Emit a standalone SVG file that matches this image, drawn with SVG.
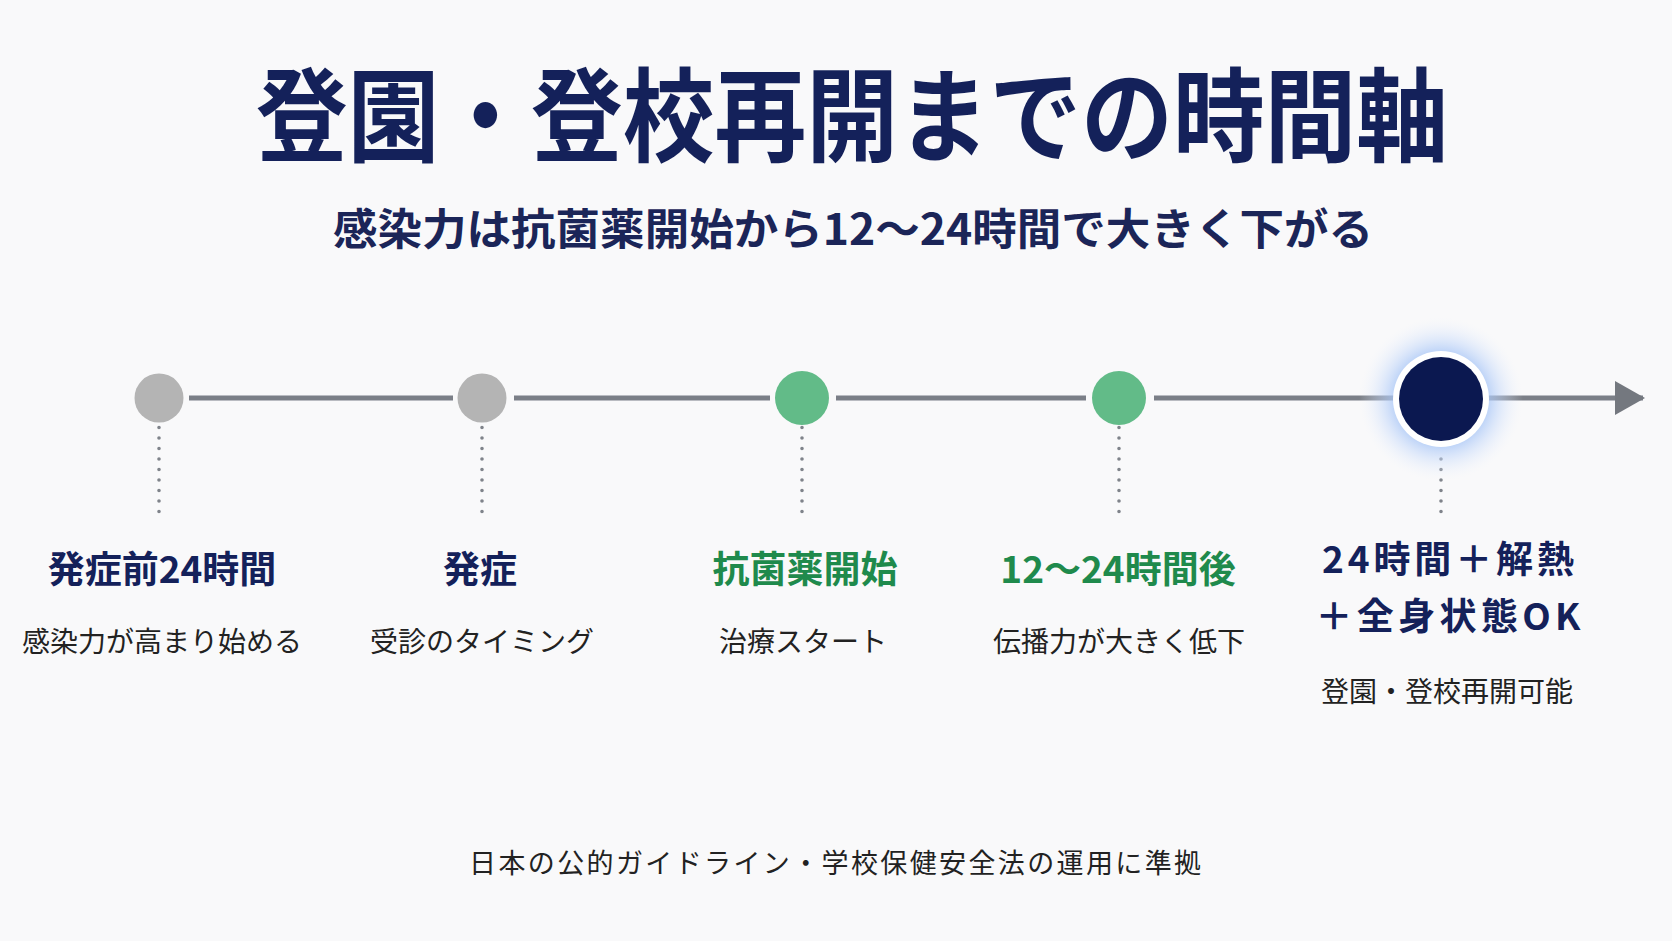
<svg xmlns="http://www.w3.org/2000/svg" width="1672" height="941" viewBox="0 0 1672 941">
<defs>
<style>
.jp{font-family:"Noto Sans CJK JP","Noto Sans",sans-serif;}
.title{font-size:102px;font-weight:700;fill:#14215a;}
.sub{font-size:43px;font-weight:600;fill:#1b2558;}
.lbl{font-size:37px;font-weight:700;}
.navy{fill:#14215a;}
.green{fill:#1f8a4c;}
.desc{font-size:28px;font-weight:400;fill:#222;}
.foot{font-size:27px;font-weight:400;fill:#222;}
.seg{stroke:#7b7f87;stroke-width:5;stroke-linecap:butt;}
.dot{stroke:#7f838a;stroke-width:3.6;stroke-dasharray:0 10.5;stroke-linecap:round;fill:none;}
.gray{fill:#b4b4b4;}
.grn{fill:#62bb88;}
</style>
<radialGradient id="glow" cx="0.5" cy="0.5" r="0.5">
<stop offset="0.5" stop-color="#9fc0f5" stop-opacity="0.9"/>
<stop offset="0.72" stop-color="#c2d7fa" stop-opacity="0.5"/>
<stop offset="1" stop-color="#eef3fd" stop-opacity="0"/>
</radialGradient>
<marker id="arr" viewBox="0 0 30 34" refX="28" refY="17" markerWidth="30" markerHeight="34" markerUnits="userSpaceOnUse" orient="auto">
<path d="M0,0 L30,17 L0,34 Z" fill="#74787f"/>
</marker>
</defs>
<rect width="1672" height="941" fill="#f9f9fa"/>

<g id="title">
<text class="jp title" x="852" y="154" text-anchor="middle" textLength="1192" lengthAdjust="spacingAndGlyphs">登園・登校再開までの時間軸</text>
<text class="jp sub" x="853" y="245" text-anchor="middle" textLength="1040" lengthAdjust="spacingAndGlyphs">感染力は抗菌薬開始から12～24時間で大きく下がる</text>
</g>

<g id="connectors">
<line class="seg" x1="189" y1="398" x2="453" y2="398"/>
<line class="seg" x1="514" y1="398" x2="770" y2="398"/>
<line class="seg" x1="836" y1="398" x2="1086" y2="398"/>
<line class="seg" x1="1154" y1="398" x2="1395" y2="398"/>
<line class="seg" x1="1488" y1="398" x2="1643" y2="398" marker-end="url(#arr)"/>
<line class="dot" x1="159" y1="417" x2="159" y2="522"/>
<line class="dot" x1="482" y1="417" x2="482" y2="522"/>
<line class="dot" x1="802" y1="417" x2="802" y2="522"/>
<line class="dot" x1="1119" y1="417" x2="1119" y2="522"/>
<line class="dot" x1="1441" y1="459" x2="1441" y2="522"/>
</g>

<g id="node1">
<circle class="gray" cx="159" cy="398" r="24.5"/>
<text class="jp lbl navy" x="162" y="583" text-anchor="middle">発症前24時間</text>
<text class="jp desc" x="162" y="652" text-anchor="middle">感染力が高まり始める</text>
</g>

<g id="node2">
<circle class="gray" cx="482" cy="398" r="24.5"/>
<text class="jp lbl navy" x="480" y="583" text-anchor="middle">発症</text>
<text class="jp desc" x="482" y="652" text-anchor="middle">受診のタイミング</text>
</g>

<g id="node3">
<circle class="grn" cx="802" cy="398" r="27"/>
<text class="jp lbl green" x="805" y="583" text-anchor="middle">抗菌薬開始</text>
<text class="jp desc" x="803" y="652" text-anchor="middle">治療スタート</text>
</g>

<g id="node4">
<circle class="grn" cx="1119" cy="398" r="27"/>
<text class="jp lbl green" x="1118" y="583" text-anchor="middle">12～24時間後</text>
<text class="jp desc" x="1119" y="652" text-anchor="middle">伝播力が大きく低下</text>
</g>

<g id="node5">
<circle cx="1441" cy="399" r="82" fill="url(#glow)"/>
<circle cx="1441" cy="399" r="48" fill="#ffffff"/>
<circle cx="1441" cy="399" r="42" fill="#0b1850"/>
<text class="jp lbl navy" x="1448" y="573" text-anchor="middle" textLength="252" lengthAdjust="spacing">24時間＋解熱</text>
<text class="jp lbl navy" x="1448" y="630" text-anchor="middle" textLength="265" lengthAdjust="spacing">＋全身状態OK</text>
<text class="jp desc" x="1447" y="702" text-anchor="middle">登園・登校再開可能</text>
</g>

<g id="footer">
<text class="jp foot" x="835" y="873" text-anchor="middle" textLength="732" lengthAdjust="spacing">日本の公的ガイドライン・学校保健安全法の運用に準拠</text>
</g>
</svg>
